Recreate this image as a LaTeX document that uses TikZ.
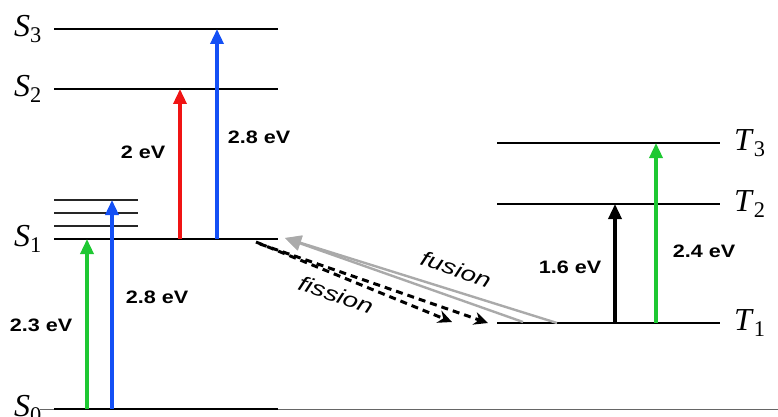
\documentclass[tikz,border=0pt]{standalone}
\usepackage{fontspec}
\setmainfont{Liberation Serif}
\setsansfont{Liberation Sans}
\usepackage{tikz}
\usetikzlibrary{
    positioning,
    arrows.meta
}
\definecolor{exgreen}{RGB}{30,200,50}
\definecolor{exblue}{RGB}{20,80,245}
\definecolor{exred}{RGB}{240,20,20}
\definecolor{fusgray}{RGB}{170,170,170}
\newcommand{\lvl}[2]{\textit{#1}\textsubscript{#2}}
\tikzset{
    >=Stealth,
    level/.style={line width=2.4pt, black},
    sublevel/.style={line width=1.4pt, black!85},
    excite/.style={line width=3.4pt, -{Triangle[width=13pt,length=15pt]}},
    elabel/.style={font=\sffamily\bfseries\fontsize{18}{21}\selectfont, xscale=1.2, inner sep=0pt},
    statelabel/.style={font=\fontsize{32}{36}\selectfont, inner sep=0pt},
    proclabel/.style={font=\sffamily\itshape\fontsize{21}{25}\selectfont, rotate=-19, xscale=1.3, inner sep=0pt}
}

\begin{document}
\begin{tikzpicture}[
    x=1pt,
    y=-1pt
]
    \clip (0,0) rectangle (778,417);

    % Linea de base
    \coordinate (baseend) at (778,409);
    \draw[fusgray!60!black, line width=1pt] (40,409) -- (baseend);

    % Niveles singlete
    \foreach \n/\y in {0/409, 1/239, 2/89, 3/29} {
        \coordinate (S\n l) at (54,\y);
        \coordinate (S\n r) at (278,\y);
        \draw[level] (S\n l) -- (S\n r);
        \node[statelabel, left=12pt of S\n l] (S\n) {\lvl{S}{\n}};
    }

    % Subniveles vibracionales
    \foreach \n/\y in {1/226, 2/213, 3/200} {
        \coordinate (v\n l) at (54,\y);
        \coordinate (v\n r) at (138,\y);
        \draw[sublevel] (v\n l) -- (v\n r);
    }

    % Niveles triplete
    \foreach \n/\y in {1/323, 2/204, 3/143} {
        \coordinate (T\n l) at (497,\y);
        \coordinate (T\n r) at (720,\y);
        \draw[level] (T\n l) -- (T\n r);
        \node[statelabel, right=14pt of T\n r] (T\n) {\lvl{T}{\n}};
    }

    % Excitaciones
    \draw[excite, exgreen] ([xshift=33pt]S0l) -- ([xshift=33pt]S1l);
    \draw[excite, exblue]  ([xshift=58pt]S0l) -- ([xshift=58pt]v3l);
    \draw[excite, exred]   ([xshift=126pt]S1l) -- ([xshift=126pt]S2l);
    \draw[excite, exblue]  ([xshift=163pt]S1l) -- ([xshift=163pt]S3l);
    \draw[excite, black]   ([xshift=118pt]T1l) -- ([xshift=118pt]T2l);
    \draw[excite, exgreen] ([xshift=159pt]T1l) -- ([xshift=159pt]T3l);

    \node[elabel] (e23) at (41,325)  {2.3 eV};
    \node[elabel] (e28a) at (157,297) {2.8 eV};
    \node[elabel] (e20) at (143,152) {2 eV};
    \node[elabel] (e28b) at (259,137) {2.8 eV};
    \node[elabel] (e16) at (570,267) {1.6 eV};
    \node[elabel] (e24) at (704,251) {2.4 eV};

    % Fusion
    \draw[fusgray, line width=2.4pt, -{Triangle[width=15pt,length=16pt]}]
        ([xshift=60pt]T1l) -- ([shift={(7,-1)}]S1r);
    \draw[fusgray, line width=2.4pt, -{Triangle[width=15pt,length=16pt]}]
        ([shift={(26,-1)}]T1l) -- ([shift={(7,-1)}]S1r);

    % Fision
    \draw[black, line width=3pt, dash pattern=on 7pt off 5pt, -{Stealth[width=13pt,length=14pt]}]
        ([shift={(-22,3)}]S1r) -- ([shift={(-45,-1)}]T1l);
    \draw[black, line width=3pt, dash pattern=on 7pt off 5pt, -{Stealth[width=13pt,length=14pt]}]
        ([shift={(-18,5)}]S1r) -- ([shift={(-9,0)}]T1l);

    \node[proclabel] (fus) at (456,269) {fusion};
    \node[proclabel] (fis) at (336,295) {fission};

\end{tikzpicture}
\end{document}
